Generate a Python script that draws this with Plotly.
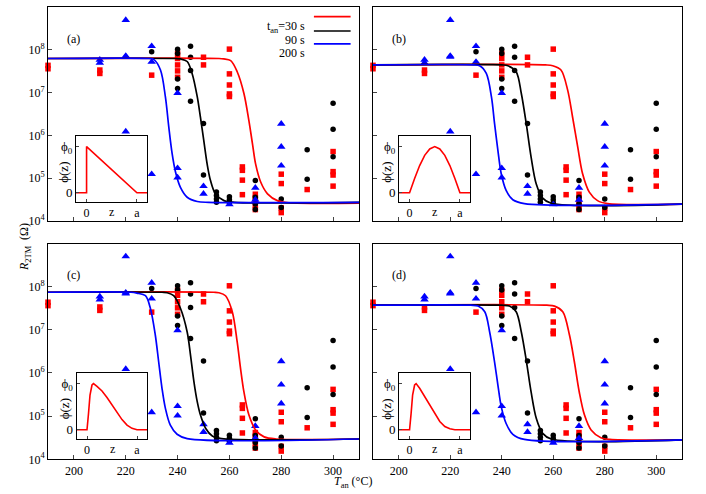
import numpy as np
import plotly.graph_objects as go

# measured points, log10(R_2TM / Ohm) -- same data in all four panels
red_T = [190, 190, 210, 210, 230, 240, 240, 240, 240, 240, 250, 250,
         260, 260, 260, 260, 260, 265, 265, 265, 265, 270, 270, 270, 270, 270,
         280, 280, 280, 280, 290, 300, 300, 300, 300]
red_logR = [7.64, 7.56, 7.53, 7.45, 7.41, 7.92, 7.80, 7.65, 7.51, 7.36, 7.83, 7.65,
            8.02, 7.44, 7.18, 6.97, 6.91, 5.26, 5.18, 4.95, 4.61, 4.62, 4.54, 4.46, 4.36, 4.26,
            5.09, 4.87, 4.30, 4.19, 4.73, 5.62, 5.15, 5.07, 4.81]

black_T = [230, 240, 240, 240, 240, 245, 245, 245, 245, 250, 250,
           255, 255, 255, 255, 260, 260, 260, 270, 270, 270, 270,
           280, 280, 290, 290, 300, 300, 300]
black_logR = [7.96, 8.02, 7.92, 7.32, 7.10, 8.09, 7.83, 7.52, 6.80, 6.28, 5.07,
              4.67, 4.59, 4.51, 4.43, 4.56, 4.49, 4.42, 4.94, 4.55, 4.39, 4.26,
              4.51, 4.31, 5.66, 4.97, 6.75, 6.14, 5.50]

blue_T = [210, 210, 220, 220, 220, 220, 230, 230, 230, 240, 240, 240,
          250, 250, 260, 270, 270, 280, 280, 280]
blue_logR = [7.77, 7.70, 8.70, 7.86, 7.84, 6.09, 8.09, 7.72, 5.09, 6.99, 5.23, 5.01,
             4.81, 4.63, 4.38, 4.77, 4.49, 6.27, 5.73, 5.29]

# fitted curves
fit_a_red_T = [190, 256, 257.8, 260.5, 263, 265.6, 267.5, 268.9, 270.1, 272.1, 274.7, 278.5, 283, 310]
fit_a_red_logR = [7.80, 7.80, 7.79, 7.75, 7.49, 6.98, 6.35, 5.80, 5.33, 4.90, 4.63, 4.47, 4.42, 4.41]
fit_a_black_T = [190, 239, 241.1, 243.7, 245.6, 247.6, 248.8, 250.1, 251.4, 252.7, 254.6, 257.9, 262, 310]
fit_a_black_logR = [7.80, 7.80, 7.79, 7.73, 7.45, 6.90, 6.43, 5.88, 5.33, 4.94, 4.63, 4.47, 4.43, 4.43]
fit_a_blue_T = [190, 229, 230.8, 233.4, 235.3, 236.6, 237.9, 239.2, 241.1, 243.7, 247.6, 252, 310]
fit_a_blue_logR = [7.80, 7.80, 7.78, 7.53, 6.90, 6.20, 5.57, 5.14, 4.78, 4.55, 4.45, 4.43, 4.43]

fit_b_red_T = [190, 257, 259.8, 263, 265.6, 267.5, 269.5, 271.4, 274, 277.2, 281.1, 310]
fit_b_red_logR = [7.65, 7.65, 7.63, 7.53, 7.06, 6.43, 5.73, 5.10, 4.67, 4.47, 4.40, 4.39]
fit_b_black_T = [190, 240, 242.4, 245.6, 247.6, 249.5, 251.4, 253.4, 255.9, 259.2, 310]
fit_b_black_logR = [7.65, 7.65, 7.63, 7.49, 6.98, 6.28, 5.49, 4.86, 4.53, 4.41, 4.39]
fit_b_blue_T = [190, 229, 231.4, 234.0, 236.0, 237.2, 238.5, 239.8, 241.7, 244.3, 248.8, 310]
fit_b_blue_logR = [7.65, 7.65, 7.63, 7.45, 6.90, 6.28, 5.65, 5.10, 4.71, 4.49, 4.40, 4.39]

fit_c_red_T = [190, 254, 255.9, 258.5, 261.1, 263, 264.3, 265.6, 267.5, 270.1, 273.4, 278, 310]
fit_c_red_logR = [7.87, 7.87, 7.86, 7.79, 7.42, 6.72, 6.10, 5.56, 5.03, 4.68, 4.52, 4.47, 4.47]
fit_c_black_T = [190, 234, 236, 238.5, 241.1, 243.7, 245, 246.3, 247.6, 248.8, 250.8, 253.4, 257, 310]
fit_c_black_logR = [7.87, 7.87, 7.86, 7.79, 7.50, 6.95, 6.41, 5.80, 5.33, 5.03, 4.72, 4.54, 4.48, 4.47]
fit_c_blue_T = [190, 222, 224.3, 227.6, 229.5, 231.4, 232.7, 234.0, 235.3, 237.2, 239.8, 243.7, 310]
fit_c_blue_logR = [7.87, 7.87, 7.85, 7.79, 7.50, 6.88, 6.26, 5.64, 5.18, 4.79, 4.58, 4.48, 4.47]

fit_d_red_T = [190, 257.5, 260.5, 263.7, 266.3, 268.2, 270.1, 272.1, 274.7, 278.5, 282, 310]
fit_d_red_logR = [7.57, 7.57, 7.55, 7.42, 6.88, 6.26, 5.56, 5.03, 4.68, 4.50, 4.46, 4.45]
fit_d_black_T = [190, 240, 243, 245.6, 247.6, 249.5, 251.4, 253.4, 255.9, 259.2, 310]
fit_d_black_logR = [7.57, 7.57, 7.55, 7.42, 6.95, 6.30, 5.56, 4.95, 4.60, 4.47, 4.45]
fit_d_blue_T = [190, 228, 230.8, 233.4, 235.3, 237.2, 238.5, 239.8, 241.7, 244.3, 248.8, 310]
fit_d_blue_logR = [7.57, 7.57, 7.55, 7.42, 6.95, 6.26, 5.72, 5.22, 4.83, 4.58, 4.46, 4.45]

# inset profiles phi(z)/phi0
inset_a_z = [-0.25, 0, 0, 1, 1.25]
inset_a_phi = [0, 0, 1, 0, 0]
inset_b_z = [-0.25, 0, 0.1, 0.2, 0.3, 0.4, 0.5, 0.6, 0.7, 0.8, 0.9, 1, 1.25]
inset_b_phi = [0, 0, 0.31, 0.59, 0.81, 0.95, 1, 0.95, 0.81, 0.59, 0.31, 0, 0]
inset_c_z = [-0.25, 0, 0.03, 0.06, 0.1, 0.13, 0.2, 0.3, 0.4, 0.5, 0.6, 0.7, 0.8, 0.9, 1.0, 1.25]
inset_c_phi = [0, 0, 0.35, 0.75, 0.97, 1.0, 0.94, 0.84, 0.70, 0.54, 0.38, 0.22, 0.10, 0.03, 0, 0]
inset_d_z = [-0.25, 0, 0.03, 0.06, 0.1, 0.13, 0.2, 0.3, 0.4, 0.5, 0.6, 0.7, 0.8, 0.9, 1.25]
inset_d_phi = [0, 0, 0.35, 0.75, 0.97, 1.0, 0.9, 0.72, 0.52, 0.33, 0.18, 0.07, 0.02, 0, 0]

fits = {
    'a': [(fit_a_red_T, fit_a_red_logR), (fit_a_black_T, fit_a_black_logR), (fit_a_blue_T, fit_a_blue_logR)],
    'b': [(fit_b_red_T, fit_b_red_logR), (fit_b_black_T, fit_b_black_logR), (fit_b_blue_T, fit_b_blue_logR)],
    'c': [(fit_c_red_T, fit_c_red_logR), (fit_c_black_T, fit_c_black_logR), (fit_c_blue_T, fit_c_blue_logR)],
    'd': [(fit_d_red_T, fit_d_red_logR), (fit_d_black_T, fit_d_black_logR), (fit_d_blue_T, fit_d_blue_logR)],
}
insets = {'a': (inset_a_z, inset_a_phi), 'b': (inset_b_z, inset_b_phi),
          'c': (inset_c_z, inset_c_phi), 'd': (inset_d_z, inset_d_phi)}

RED, BLACK, BLUE = '#ff0000', '#000000', '#0000ff'
FONT = 'Liberation Serif, Times New Roman, serif'
W, H = 706, 494

# panel boxes in pixels (left, right, top, bottom)
panel_px = {'a': (48, 359, 7.3, 220.7), 'b': (373, 682, 7.3, 220.7),
            'c': (48, 359, 243.5, 459.3), 'd': (373, 682, 243.5, 459.3)}
inset_px = {'a': (76, 147, 136, 202), 'b': (399, 470, 136, 202),
            'c': (76.5, 147, 373, 439), 'd': (399, 470, 373, 439)}


def xdom(l, r):
    return [l / W, r / W]


def ydom(t, b):
    return [1 - b / H, 1 - t / H]


def ax_id(k):
    return '' if k == 1 else str(k)


fig = go.Figure()
layout = dict(width=W, height=H, margin=dict(l=0, r=0, t=0, b=0, autoexpand=False),
              paper_bgcolor='white', plot_bgcolor='white', showlegend=False,
              font=dict(family=FONT, size=12, color='black'))
annotations = []
shapes = []

for i, p in enumerate(['a', 'b', 'c', 'd']):
    n = i + 1
    m = n + 4
    xa, ya = 'x' + ax_id(n), 'y' + ax_id(n)
    xi, yi = 'x' + ax_id(m), 'y' + ax_id(m)

    # data points
    fig.add_trace(go.Scatter(x=red_T, y=10 ** np.array(red_logR), mode='markers', xaxis=xa, yaxis=ya,
                             marker=dict(symbol='square', size=5.5, color=RED), cliponaxis=False))
    fig.add_trace(go.Scatter(x=black_T, y=10 ** np.array(black_logR), mode='markers', xaxis=xa, yaxis=ya,
                             marker=dict(symbol='circle', size=5.5, color=BLACK), cliponaxis=False))
    fig.add_trace(go.Scatter(x=blue_T, y=10 ** np.array(blue_logR), mode='markers', xaxis=xa, yaxis=ya,
                             marker=dict(symbol='triangle-up', size=7.5, color=BLUE), cliponaxis=False))
    # fits
    for (T, lr), c in zip(fits[p], [RED, BLACK, BLUE]):
        fig.add_trace(go.Scatter(x=T, y=10 ** np.array(lr), mode='lines', xaxis=xa, yaxis=ya,
                                 line=dict(color=c, width=1.7, shape='spline', smoothing=0.9)))
    # inset
    z, phi = insets[p]
    fig.add_trace(go.Scatter(x=z, y=phi, mode='lines', xaxis=xi, yaxis=yi,
                             line=dict(color=RED, width=1.6)))

    l, r, t, b = panel_px[p]
    bottom = p in ('c', 'd')
    left = p in ('a', 'c')
    layout['xaxis' + ax_id(n)] = dict(domain=xdom(l, r), range=[190, 310], anchor=ya, automargin=False,
                                      tickvals=[200, 220, 240, 260, 280, 300], ticks='inside', ticklen=4,
                                      showticklabels=bottom, showline=True, mirror=True, linecolor='black',
                                      linewidth=1, showgrid=False, zeroline=False,
                                      tickfont=dict(family=FONT, size=12))
    layout['yaxis' + ax_id(n)] = dict(domain=ydom(t, b), type='log', range=[4, 9], anchor=xa,
                                      automargin=False, tickvals=[1e4, 1e5, 1e6, 1e7, 1e8],
                                      ticktext=['10<sup>4</sup>', '10<sup>5</sup>', '10<sup>6</sup>',
                                                '10<sup>7</sup>', '10<sup>8</sup>'],
                                      ticks='inside', ticklen=4, showticklabels=left, showline=True,
                                      mirror=True, linecolor='black', linewidth=1, showgrid=False,
                                      zeroline=False, tickfont=dict(family=FONT, size=12))

    il, ir, it, ib = inset_px[p]
    layout['xaxis' + ax_id(m)] = dict(domain=xdom(il, ir), range=[-0.21, 1.2], anchor=yi, automargin=False,
                                      tickvals=[0, 1], ticktext=['0', 'a'], ticks='inside', ticklen=3,
                                      showline=True, mirror=True, linecolor='black', linewidth=1,
                                      showgrid=False, zeroline=False, tickfont=dict(family=FONT, size=12))
    layout['yaxis' + ax_id(m)] = dict(domain=ydom(it, ib), range=[-0.2, 1.23], anchor=xi, automargin=False,
                                      tickvals=[0, 1], ticktext=['0', 'ϕ<sub>0</sub>'], ticks='inside',
                                      ticklen=3, showline=True, mirror=True, linecolor='black', linewidth=1,
                                      showgrid=False, zeroline=False, tickfont=dict(family=FONT, size=13))
    annotations.append(dict(x=0.5, y=0, xref=xi, yref=yi + ' domain', text='z', showarrow=False,
                            yanchor='top', yshift=-1, font=dict(size=12)))
    annotations.append(dict(x=0, y=0.45, xref=xi + ' domain', yref=yi + ' domain', text='ϕ(z)',
                            showarrow=False, textangle=-90, xanchor='right', xshift=-3,
                            font=dict(size=13)))
    # panel label
    annotations.append(dict(x=0.055, y=0.895, xref=xa + ' domain', yref=ya + ' domain',
                            text=f'({p})', showarrow=False, font=dict(size=12)))

# legend in panel (a)
leg_text = ['t<sub>an</sub>=30 s', '90 s', '200 s']
leg_y = [0.956, 0.889, 0.829]
for txt, yy, c in zip(leg_text, leg_y, [RED, BLACK, BLUE]):
    annotations.append(dict(x=0.832, y=yy, xref='x domain', yref='y domain', text=txt,
                            showarrow=False, xanchor='right', font=dict(size=12)))
    shapes.append(dict(type='line', x0=0.855, x1=0.973, y0=yy, y1=yy, xref='x domain',
                       yref='y domain', line=dict(color=c, width=1.7)))

# axis titles
annotations.append(dict(x=353 / W, y=1 - 492 / H, xref='paper', yref='paper', yanchor='bottom',
                        text='<i>T</i><sub>an</sub> (°C)', showarrow=False, font=dict(size=12)))
annotations.append(dict(x=15 / W, y=1 - 247 / H, xref='paper', yref='paper',
                        text='<i>R</i><sub>2TM</sub>  (Ω)', showarrow=False, textangle=-90,
                        font=dict(size=12)))

layout['annotations'] = annotations
layout['shapes'] = shapes
fig.update_layout(**layout)
fig.write_html("out.html", config={'displayModeBar': False},
               post_script="document.body.style.margin='0';")
